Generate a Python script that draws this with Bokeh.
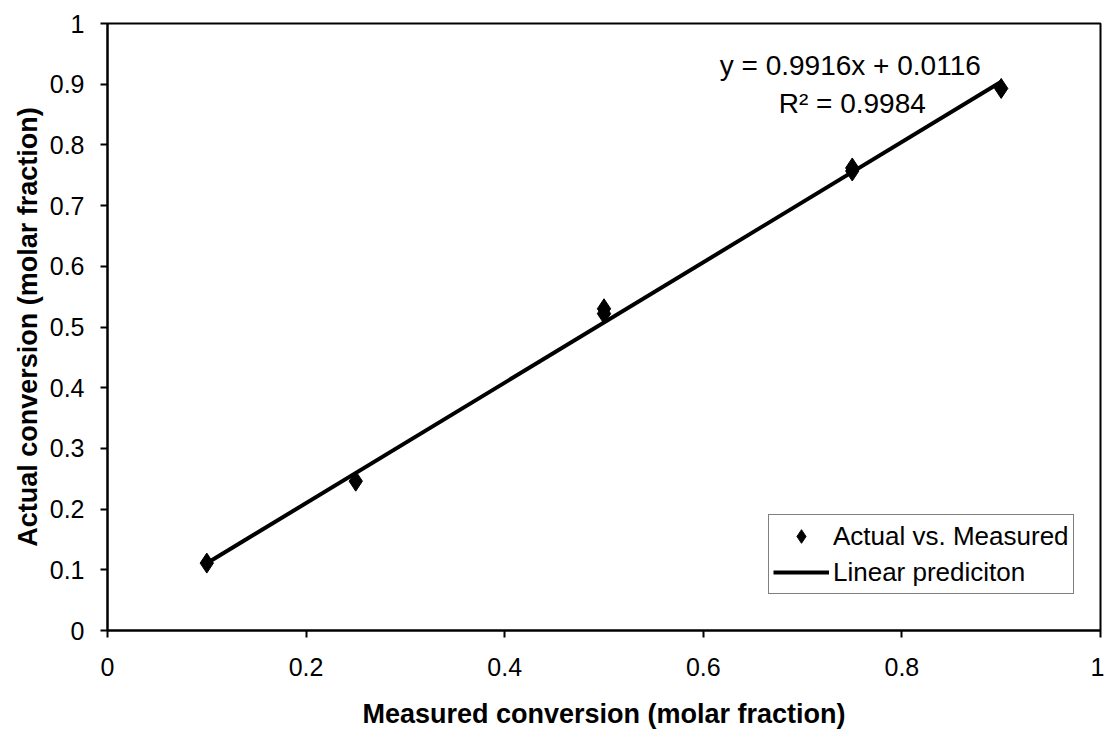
from bokeh.plotting import figure
from bokeh.models import Range1d, FixedTicker, Legend, LegendItem, Label
from bokeh.embed import file_html
from bokeh.resources import INLINE

measured = [0.1, 0.25, 0.5, 0.5, 0.75, 0.75, 0.9]
actual = [0.111, 0.246, 0.522, 0.530, 0.757, 0.762, 0.893]
slope = 0.9916
intercept = 0.0116
fit_x = [0.1, 0.9]
fit_y = [slope * v + intercept for v in fit_x]
x_ticks = [0, 0.2, 0.4, 0.6, 0.8, 1]
y_ticks = [0, 0.1, 0.2, 0.3, 0.4, 0.5, 0.6, 0.7, 0.8, 0.9, 1]

FONT = "Liberation Sans"

p = figure(width=1104, height=731, output_backend="svg", toolbar_location=None,
           x_range=Range1d(0, 1), y_range=Range1d(0, 1))
p.min_border_left = 107
p.min_border_right = 4
p.min_border_top = 23
p.min_border_bottom = 99
p.background_fill_color = "white"
p.border_fill_color = "white"
p.outline_line_color = "black"
p.outline_line_width = 2
p.xgrid.visible = False
p.ygrid.visible = False

for ax in (p.xaxis[0], p.yaxis[0]):
    ax.axis_line_color = "black"
    ax.axis_line_width = 2
    ax.major_tick_line_color = "black"
    ax.major_tick_line_width = 2
    ax.major_tick_out = 7
    ax.major_tick_in = 0
    ax.minor_tick_line_color = None
    ax.major_label_text_font = FONT
    ax.major_label_text_font_size = "25px"
    ax.major_label_text_color = "black"
    ax.axis_label_text_font = FONT
    ax.axis_label_text_font_size = "27px"
    ax.axis_label_text_font_style = "bold"
    ax.axis_label_text_color = "black"

p.xaxis.ticker = FixedTicker(ticks=x_ticks)
p.yaxis.ticker = FixedTicker(ticks=y_ticks)
p.xaxis.major_label_overrides = {0: "0", 1: "1"}
p.yaxis.major_label_overrides = {0: "0", 1: "1"}
p.xaxis.major_label_standoff = 20
p.yaxis.major_label_standoff = 16
p.xaxis.axis_label = "Measured conversion (molar fraction)"
p.yaxis.axis_label = "Actual conversion (molar fraction)"
p.xaxis.axis_label_standoff = 20
p.yaxis.axis_label_standoff = 4

ln = p.line(fit_x, fit_y, line_color="black", line_width=4)
sc = p.scatter(measured, actual, marker="diamond", size=20, fill_color="black", line_color="black")

legend = Legend(items=[LegendItem(label="Actual vs. Measured", renderers=[sc]),
                       LegendItem(label="Linear prediciton", renderers=[ln])],
                location=(661, 36))
legend.label_text_font = FONT
legend.label_text_font_size = "26px"
legend.label_text_color = "black"
legend.border_line_color = "black"
legend.border_line_width = 1
legend.background_fill_alpha = 1
legend.padding = 4
legend.spacing = 2
legend.glyph_width = 56
legend.glyph_height = 34
legend.label_height = 34
legend.label_standoff = 4
legend.margin = 0
p.add_layout(legend, "center")

p.add_layout(Label(x=0.748, y=0.931, text="y = 0.9916x + 0.0116", text_font=FONT,
                   text_font_size="28px", text_align="center", text_baseline="middle",
                   text_color="black"))
p.add_layout(Label(x=0.75, y=0.869, text="R² = 0.9984", text_font=FONT,
                   text_font_size="28px", text_align="center", text_baseline="middle",
                   text_color="black"))

open("out.html", "w").write(file_html(p, INLINE))
